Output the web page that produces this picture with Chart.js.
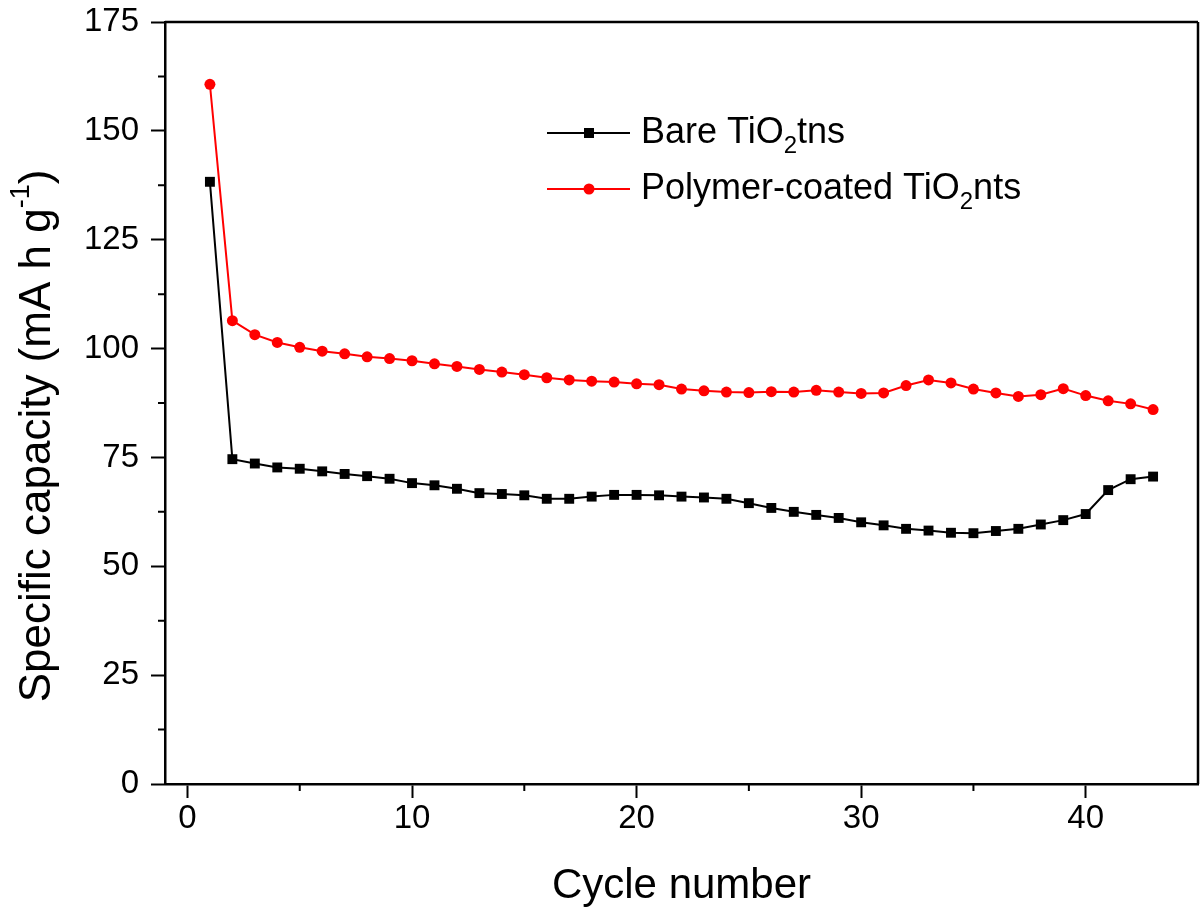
<!DOCTYPE html>
<html>
<head>
<meta charset="utf-8">
<script src="https://cdn.jsdelivr.net/npm/chart.js@4"></script>
<style>
  body { margin: 0; background: #fff; overflow: hidden; }
  #wrap { width: 1200px; height: 919px; }
  canvas { display: block; }
</style>
</head>
<body>
<div id="wrap"><canvas id="capacity" width="1200" height="919"></canvas></div>
<script>
// cycle numbers and capacities (mA h g-1)
var cycles = [1, 2, 3, 4, 5, 6, 7, 8, 9, 10, 11, 12, 13, 14, 15, 16, 17, 18, 19, 20, 21,
    22, 23, 24, 25, 26, 27, 28, 29, 30, 31, 32, 33, 34, 35, 36, 37, 38, 39, 40, 41, 42, 43];
var bare = [138.3, 74.6, 73.6, 72.7, 72.4, 71.8, 71.2, 70.7, 70.1, 69.1,
    68.6, 67.8, 66.8, 66.6, 66.3, 65.5, 65.5, 66.0, 66.4, 66.4,
    66.3, 66.0, 65.8, 65.5, 64.5, 63.4, 62.5, 61.8, 61.1, 60.1,
    59.4, 58.6, 58.2, 57.7, 57.6, 58.1, 58.6, 59.6, 60.6, 62.0,
    67.5, 70.0, 70.6];
var coated = [160.7, 106.4, 103.2, 101.4, 100.3, 99.4, 98.8, 98.1, 97.7, 97.2,
    96.5, 95.9, 95.2, 94.6, 94.0, 93.3, 92.8, 92.5, 92.3, 91.9,
    91.7, 90.7, 90.3, 90.0, 89.9, 90.1, 90.0, 90.4, 90.0, 89.7,
    89.8, 91.5, 92.8, 92.1, 90.7, 89.8, 89.0, 89.4, 90.8, 89.2,
    88.0, 87.3, 86.0];
var xTicks = [0, 10, 20, 30, 40];
var yTicks = [0, 25, 50, 75, 100, 125, 150, 175];
// legend text pieces: [normal, subscript, normal]
var legendParts = [["Bare TiO", "2", "tns"], ["Polymer-coated TiO", "2", "nts"]];

var FONT = "'Liberation Sans', Arial, Helvetica, sans-serif";

function pairs(ys) {
    return cycles.map(function (c, i) { return { x: c, y: ys[i] }; });
}

// frame, minor ticks, y title and legend
var decor = {
    id: 'decor',
    afterLayout: function (chart) {
        // stretch plot area to the right edge of the figure
        var a = chart.chartArea, xs = chart.scales.x;
        var target = chart.width - 2;
        a.right = target;
        a.width = a.right - a.left;
        xs.right = target;
        xs.width = target - xs.left;
        xs.configure();
    },
    afterDraw: function (chart) {
        var ctx = chart.ctx, a = chart.chartArea;
        var xs = chart.scales.x, ys = chart.scales.y;
        ctx.save();
        ctx.strokeStyle = '#000';
        ctx.lineWidth = 2.5;
        ctx.beginPath();
        ctx.moveTo(a.left, a.top); ctx.lineTo(a.right, a.top);
        ctx.moveTo(a.right, a.top); ctx.lineTo(a.right, a.bottom);
        ctx.stroke();

        ctx.lineWidth = 2;
        ctx.beginPath();
        for (var v = 5; v < xs.max; v += 10) {
            var px = xs.getPixelForValue(v);
            ctx.moveTo(px, a.bottom); ctx.lineTo(px, a.bottom + 7);
        }
        for (var w = 12.5; w < ys.max; w += 25) {
            var py = ys.getPixelForValue(w);
            ctx.moveTo(a.left, py); ctx.lineTo(a.left - 7, py);
        }
        ctx.stroke();

        // y axis title with superscript
        ctx.fillStyle = '#000';
        ctx.translate(38, 436);
        ctx.rotate(-Math.PI / 2);
        ctx.textBaseline = 'middle';
        ctx.textAlign = 'left';
        var big = '44px ' + FONT, small = '27px ' + FONT;
        var t1 = 'Specific capacity (mA h g', t2 = '-1', t3 = ')';
        ctx.font = big; var w1 = ctx.measureText(t1).width, w3 = ctx.measureText(t3).width;
        ctx.font = small; var w2 = ctx.measureText(t2).width;
        var x0 = -(w1 + w2 + w3) / 2;
        ctx.font = big; ctx.fillText(t1, x0, 0);
        ctx.font = small; ctx.fillText(t2, x0 + w1, -16);
        ctx.font = big; ctx.fillText(t3, x0 + w1 + w2, 0);
        ctx.restore();

        // legend
        ctx.save();
        chart.data.datasets.forEach(function (ds, i) {
            var ly = 133 + i * 56, lx = 547;
            ctx.strokeStyle = ds.borderColor;
            ctx.lineWidth = 2;
            ctx.beginPath(); ctx.moveTo(lx, ly); ctx.lineTo(lx + 83, ly); ctx.stroke();
            ctx.fillStyle = ds.pointBackgroundColor;
            ctx.beginPath();
            if (ds.pointStyle === 'rect') ctx.rect(lx + 42 - 5, ly - 5, 10, 10);
            else ctx.arc(lx + 42, ly, 5.5, 0, Math.PI * 2);
            ctx.fill();
            var p = legendParts[i], tx = lx + 94;
            ctx.fillStyle = '#000';
            ctx.textBaseline = 'middle';
            ctx.font = '36px ' + FONT;
            ctx.fillText(p[0], tx, ly); tx += ctx.measureText(p[0]).width;
            ctx.font = '24px ' + FONT;
            ctx.fillText(p[1], tx, ly + 13); tx += ctx.measureText(p[1]).width;
            ctx.font = '36px ' + FONT;
            ctx.fillText(p[2], tx, ly);
        });
        ctx.restore();
    }
};

new Chart(document.getElementById('capacity'), {
    type: 'line',
    data: {
        datasets: [{
            label: 'Bare TiO2tns',
            data: pairs(bare),
            borderColor: '#000',
            backgroundColor: '#000',
            pointBackgroundColor: '#000',
            pointBorderWidth: 0,
            pointStyle: 'rect',
            pointRadius: 7,
            borderWidth: 2,
            tension: 0
        }, {
            label: 'Polymer-coated TiO2nts',
            data: pairs(coated),
            borderColor: '#ff0000',
            backgroundColor: '#ff0000',
            pointBackgroundColor: '#ff0000',
            pointBorderWidth: 0,
            pointStyle: 'circle',
            pointRadius: 5.5,
            borderWidth: 2,
            tension: 0
        }]
    },
    options: {
        responsive: false,
        animation: false,
        layout: { padding: { left: 0, right: 2, top: 22, bottom: 0 } },
        plugins: { legend: { display: false }, tooltip: { enabled: false } },
        scales: {
            x: {
                type: 'linear',
                min: -1,
                max: 45,
                afterFit: function (s) { s.height = 135; s.paddingLeft = 0; s.paddingRight = 0; },
                afterBuildTicks: function (s) { s.ticks = xTicks.map(function (v) { return { value: v }; }); },
                ticks: { color: '#000', font: { family: FONT, size: 33 }, padding: 1, maxRotation: 0 },
                grid: { drawOnChartArea: false, tickLength: 14, tickWidth: 2, tickColor: '#000' },
                border: { color: '#000', width: 2.5 },
                title: { display: true, text: 'Cycle number', color: '#000',
                    font: { family: FONT, size: 42 }, padding: { top: 0, bottom: 7 } }
            },
            y: {
                min: 0,
                max: 175,
                afterFit: function (s) { s.width = 165; s.paddingTop = 0; s.paddingBottom = 0; },
                afterBuildTicks: function (s) { s.ticks = yTicks.map(function (v) { return { value: v }; }); },
                ticks: { color: '#000', font: { family: FONT, size: 33 }, padding: 12 },
                grid: { drawOnChartArea: false, tickLength: 14, tickWidth: 2, tickColor: '#000' },
                border: { color: '#000', width: 2.5 }
            }
        }
    },
    plugins: [decor]
});
</script>
</body>
</html>
